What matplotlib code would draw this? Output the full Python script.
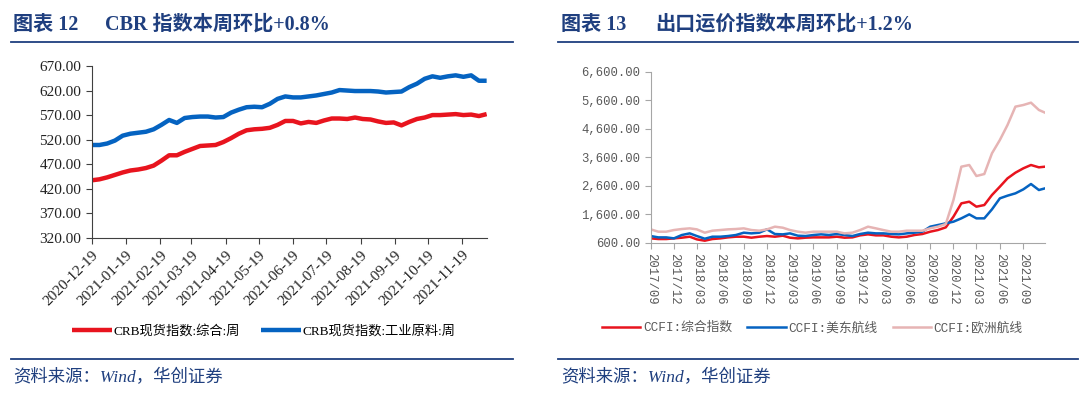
import pandas as pd
import numpy as np
import matplotlib
matplotlib.use("Agg")
import matplotlib.pyplot as plt
import matplotlib.dates as mdates
from matplotlib.lines import Line2D

plt.rcParams["font.family"] = ["Liberation Serif", "Noto Sans CJK SC"]

# ---- left chart: CRB weekly ----
crb_start = "2020-12-19"
crb_total = [437, 439, 443, 448, 453, 457, 459, 462, 467, 477, 488, 488, 495, 501,
             507, 508, 509, 515, 523, 532, 539, 541, 542, 544, 550, 558, 558, 553,
             556, 554, 559, 563, 563, 562, 565, 562, 561, 557, 554, 555, 549, 556,
             562, 565, 570, 570, 571, 572, 570, 571, 568, 572]
crb_indus = [509, 509, 512, 518, 528, 532, 534, 536, 541, 550, 560, 554, 564, 566,
             567, 567, 565, 566, 575, 581, 586, 587, 586, 593, 603, 608, 606, 606,
             608, 610, 613, 616, 621, 620, 619, 619, 619, 618, 616, 617, 618, 627,
             634, 644, 649, 646, 649, 651, 648, 651, 640, 640]
crb_labels = ["CRB现货指数:综合:周", "CRB现货指数:工业原料:周"]

# ---- right chart: CCFI ----
ccfi_dates = list(pd.date_range("2017-09-01", "2021-11-01", freq="MS")) + [pd.Timestamp("2021-11-25")]
ccfi_total = [752, 729, 729, 752, 776, 811, 717, 670, 729, 752, 787, 811, 811, 776,
              811, 834, 811, 846, 776, 752, 776, 787, 787, 787, 811, 776, 787, 858,
              893, 858, 858, 811, 787, 811, 870, 905, 987, 1045, 1139, 1514, 1983,
              2041, 1866, 1924, 2276, 2569, 2862, 3061, 3214, 3331, 3249, 3272]
ccfi_useast = [834, 787, 787, 752, 870, 928, 834, 740, 811, 811, 834, 870, 952, 928,
               952, 1069, 905, 893, 928, 846, 834, 870, 893, 870, 905, 870, 834, 905,
               952, 928, 928, 905, 893, 928, 952, 987, 1163, 1221, 1280, 1338, 1456,
               1596, 1456, 1456, 1772, 2159, 2253, 2335, 2475, 2663, 2452, 2510]
ccfi_europe = [1069, 987, 987, 1045, 1081, 1104, 1069, 952, 1022, 1045, 1069, 1081,
               1104, 1045, 1022, 1069, 1163, 1127, 1045, 987, 952, 987, 987, 987, 987,
               928, 952, 1045, 1163, 1104, 1045, 987, 987, 1022, 1022, 1022, 1104,
               1163, 1256, 2100, 3272, 3331, 2944, 3014, 3741, 4210, 4737, 5382,
               5440, 5522, 5265, 5171]
ccfi_labels = ["CCFI:综合指数", "CCFI:美东航线", "CCFI:欧洲航线"]

RED = "#E8141E"
BLUE = "#0563C1"
PINK = "#E6B4B4"
NAVY = "#1F3F7F"
MONO = ["Liberation Mono", "Noto Sans CJK SC"]

fig = plt.figure(figsize=(10.8, 3.98), dpi=100)

# left axes
ax1 = fig.add_axes([0.0849, 0.4028, 0.3657, 0.4313])
crb_dates = pd.date_range(crb_start, periods=len(crb_total), freq="7D")
l1, = ax1.plot(crb_dates, crb_total, color=RED, lw=3.2, solid_capstyle="butt")
l2, = ax1.plot(crb_dates, crb_indus, color=BLUE, lw=3.2, solid_capstyle="butt")
ax1.set_ylim(320, 670)
ax1.set_yticks(np.arange(320, 671, 50))
ax1.yaxis.set_major_formatter(matplotlib.ticker.FormatStrFormatter("%.2f"))
ax1.set_xlim(crb_dates[0], crb_dates[-1])
ax1.set_xticks([pd.Timestamp(crb_start) + pd.DateOffset(months=i) for i in range(12)])
ax1.xaxis.set_major_formatter(mdates.DateFormatter("%Y-%m-%d"))
for s in ["top", "right"]:
    ax1.spines[s].set_visible(False)
for s in ["left", "bottom"]:
    ax1.spines[s].set_color("#404040")
ax1.tick_params(axis="both", colors="#404040", labelcolor="#222222", length=4, labelsize=11)
for lab in ax1.get_xticklabels():
    lab.set_rotation(45)
    lab.set_ha("right")
    lab.set_rotation_mode("anchor")

fig.legend([l1, l2], crb_labels, loc="center", bbox_to_anchor=(0.2444, 0.168), ncol=2,
           frameon=False, fontsize=9.5, handlelength=3.0, handletextpad=0.15,
           columnspacing=1.6)

# right axes
ax2 = fig.add_axes([0.6025, 0.3902, 0.3651, 0.4289])
r1, = ax2.plot(ccfi_dates, ccfi_total, color=RED, lw=1.8)
r2, = ax2.plot(ccfi_dates, ccfi_useast, color=BLUE, lw=1.8)
r3, = ax2.plot(ccfi_dates, ccfi_europe, color=PINK, lw=1.8)
ax2.set_ylim(600, 6600)
ax2.set_yticks(np.arange(600, 6601, 1000))
ax2.set_yticklabels([f"{v:,.2f}" for v in np.arange(600, 6601, 1000)], family=MONO)
ax2.set_xlim(ccfi_dates[0], ccfi_dates[-1])
qticks = pd.date_range("2017-09-01", "2021-09-01", freq="3MS")
ax2.set_xticks(qticks)
ax2.set_xticklabels([d.strftime("%Y/%m") for d in qticks], rotation=270,
                    family=MONO, va="top", ha="center")
for s in ["top", "right"]:
    ax2.spines[s].set_visible(False)
for s in ["left", "bottom"]:
    ax2.spines[s].set_color("#A6A6A6")
ax2.tick_params(axis="both", colors="#A6A6A6", labelcolor="#595959", length=4, labelsize=8.8)

fig.legend([r1, r2, r3], ccfi_labels, loc="center", bbox_to_anchor=(0.7523, 0.176), ncol=3,
           frameon=False, handlelength=3.0, handletextpad=0.2, columnspacing=1.2,
           prop={"family": MONO, "size": 9.2}, labelcolor="#595959")

# titles, rules and sources
title_font = ["Liberation Serif", "Noto Sans CJK SC"]
ty = 1 - 25 / 398
fig.text(13 / 1080, ty, "图表 12", color=NAVY, fontsize=14.5, weight="bold",
         family=title_font, va="center")
fig.text(105 / 1080, ty, "CBR 指数本周环比+0.8%", color=NAVY, fontsize=14.5,
         weight="bold", family=title_font, va="center")
fig.text(561 / 1080, ty, "图表 13", color=NAVY, fontsize=14.5, weight="bold",
         family=title_font, va="center")
fig.text(655 / 1080, ty, "出口运价指数本周环比+1.2%", color=NAVY, fontsize=14.5,
         weight="bold", family=title_font, va="center")

for x0, x1 in [(11, 513), (558, 1078)]:
    fig.add_artist(Line2D([x0 / 1080, x1 / 1080], [1 - 42 / 398] * 2, color=NAVY, lw=1.3))
    fig.add_artist(Line2D([x0 / 1080, x1 / 1080], [1 - 359 / 398] * 2, color=NAVY, lw=1.3))

for sx in (13, 561):
    fig.text(sx / 1080, 1 - 378 / 398, "资料来源：Wind，华创证券", color=NAVY, fontsize=12.5,
             style="italic", family=title_font, va="center")

fig.savefig("out.png", dpi=100)
